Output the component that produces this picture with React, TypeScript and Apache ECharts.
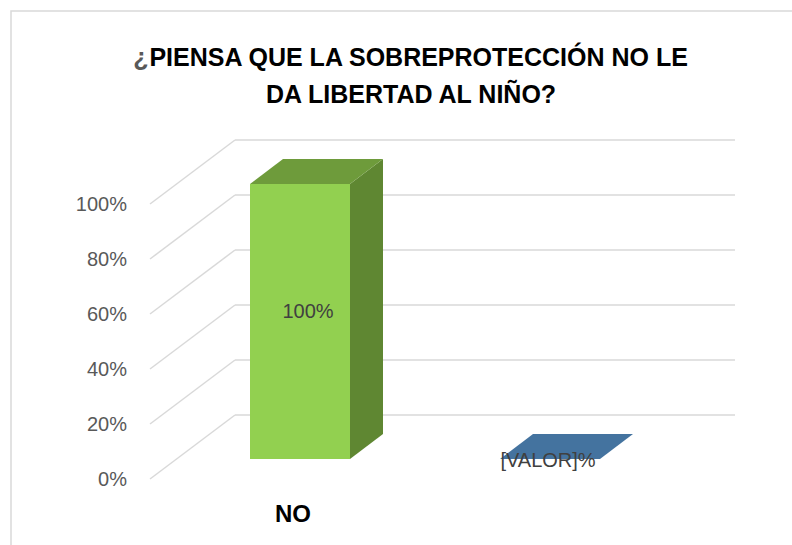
import React, { useEffect, useRef } from "react";
import * as echarts from "echarts";

const categories = ["NO", ""];
const values = [100, 0];
const valueLabels = ["100%", "[VALOR]%"];
const yTicks = [0, 20, 40, 60, 80, 100];
const titleLine1 = "PIENSA QUE LA SOBREPROTECCIÓN NO LE";
const titleLine2 = "DA LIBERTAD AL NIÑO?";

const palette = [
  { front: "#92d050", side: "#5f8732", top: "#6e9b3b" },
  { front: "#5b8fc4", side: "#3d6690", top: "#44739f" },
];

// 3D geometry (pixels)
const FLOOR_DX = 85;
const FLOOR_DY = -64;
const BAR_OFF_X = 25;
const BAR_OFF_Y = -20;
const BAR_DX = 33;
const BAR_DY = -25;
const FONT = "'Liberation Sans', Arial, sans-serif";

export default function App() {
  const ref = useRef<HTMLDivElement>(null);
  useEffect(() => {
    if (!ref.current) return;
    const chart = echarts.init(ref.current, undefined, { renderer: "svg" });
    const titleStyle = { fontFamily: FONT, fontSize: 25, fontWeight: "bold", lineHeight: 37.5 };
    const option: any = {
      animation: false,
      backgroundColor: "#ffffff",
      title: {
        left: 411,
        top: 38,
        padding: 0,
        textAlign: "center",
        text: "{q|¿}{b|" + titleLine1 + "}\n{b|" + titleLine2 + "}",
        textStyle: {
          ...titleStyle,
          rich: {
            q: { ...titleStyle, color: "#595959" },
            b: { ...titleStyle, color: "#000000" },
          },
        },
      },
      graphic: [
        {
          type: "rect",
          shape: { x: 11, y: 11, width: 900, height: 700 },
          style: { fill: "none", stroke: "#d9d9d9", lineWidth: 1.5 },
          silent: true,
          z: -1,
        },
      ],
      grid: [
        { left: 150, top: 204, width: 500, height: 275 },
        { left: 150 + FLOOR_DX, top: 204 + FLOOR_DY, width: 500, height: 275 },
      ],
      xAxis: [
        {
          type: "category",
          gridIndex: 0,
          data: categories,
          axisLine: { show: false },
          axisTick: { show: false },
          axisLabel: {
            margin: 22,
            fontFamily: FONT,
            fontSize: 24,
            fontWeight: "bold",
            color: "#000000",
            padding: [0, 0, 0, 36],
          },
        },
        { type: "category", gridIndex: 1, data: categories, show: false },
      ],
      yAxis: [
        {
          type: "value",
          gridIndex: 0,
          min: 0,
          max: 100,
          interval: 20,
          axisLine: { show: false },
          axisTick: { show: false },
          splitLine: { show: false },
          axisLabel: {
            formatter: "{value}%",
            margin: 23,
            fontFamily: FONT,
            fontSize: 20,
            color: "#595959",
          },
        },
        {
          type: "value",
          gridIndex: 1,
          min: 0,
          max: 100,
          interval: 20,
          axisLine: { show: false },
          axisTick: { show: false },
          axisLabel: { show: false },
          splitLine: { show: true, lineStyle: { color: "#d9d9d9", width: 1.5 } },
        },
      ],
      series: [
        {
          type: "custom",
          xAxisIndex: 0,
          yAxisIndex: 0,
          silent: true,
          data: yTicks.map((t) => [0, t]),
          renderItem: (params: any, api: any) => {
            const y = api.coord([0, api.value(1)])[1];
            const x0 = params.coordSys.x;
            return {
              type: "line",
              shape: { x1: x0, y1: y, x2: x0 + FLOOR_DX, y2: y + FLOOR_DY },
              style: { stroke: "#d9d9d9", lineWidth: 1.5 },
            };
          },
        },
        {
          type: "custom",
          xAxisIndex: 0,
          yAxisIndex: 0,
          silent: true,
          data: values.map((v, i) => [i, v]),
          renderItem: (params: any, api: any) => {
            const idx = api.value(0);
            const v = api.value(1);
            const base = api.coord([idx, 0]);
            const top = api.coord([idx, v]);
            const bw = api.size([1, 0])[0] * 0.4;
            const c = palette[idx % palette.length];
            const fx = base[0] + BAR_OFF_X - bw / 2;
            const by = base[1] + BAR_OFF_Y;
            const ty = top[1] + BAR_OFF_Y;
            const children: any[] = [];
            const hasHeight = by - ty > 0.5;
            if (hasHeight) {
              children.push({
                type: "polygon",
                shape: { points: [[fx, by], [fx + bw, by], [fx + bw, ty], [fx, ty]] },
                style: { fill: c.front },
              });
              children.push({
                type: "polygon",
                shape: {
                  points: [
                    [fx + bw, by],
                    [fx + bw + BAR_DX, by + BAR_DY],
                    [fx + bw + BAR_DX, ty + BAR_DY],
                    [fx + bw, ty],
                  ],
                },
                style: { fill: c.side },
              });
            }
            children.push({
              type: "polygon",
              shape: {
                points: [
                  [fx, ty],
                  [fx + bw, ty],
                  [fx + bw + BAR_DX, ty + BAR_DY],
                  [fx + BAR_DX, ty + BAR_DY],
                ],
              },
              style: { fill: c.top },
            });
            const lx = fx + bw / 2 + (hasHeight ? 8 : -2);
            const ly = (by + ty) / 2 + (hasHeight ? -11 : 1);
            children.push({
              type: "text",
              x: lx,
              y: ly,
              style: {
                text: valueLabels[idx],
                fontFamily: FONT,
                fontSize: 20,
                fill: "#404040",
                align: "center",
                verticalAlign: "middle",
              },
            });
            return { type: "group", children };
          },
        },
      ],
    };
    chart.setOption(option);
    return () => chart.dispose();
  }, []);
  return (
    <div
      ref={ref}
      style={{ position: "absolute", left: 0, top: 0, width: 792, height: 545 }}
    />
  );
}
